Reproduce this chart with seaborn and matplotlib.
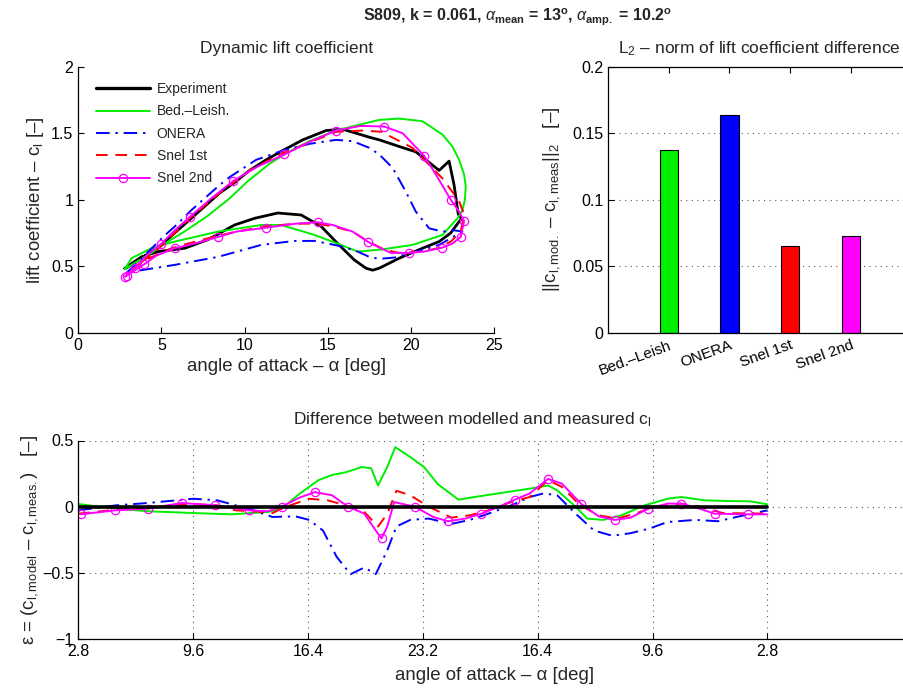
import matplotlib
matplotlib.use("Agg")
import matplotlib.pyplot as plt
import seaborn as sns
from matplotlib.lines import Line2D
from matplotlib.ticker import FuncFormatter, FixedLocator

# ---------------- data: dynamic lift loops (alpha [deg], cl) ----------------
exp_alpha = [2.8, 3.8, 4.9, 5.8, 6.7, 7.6, 8.5, 9.4, 10.3, 11.3, 12.3, 13.5, 14.9, 15.9, 17.5, 18.1, 19.3, 20.3, 20.7, 21.7,
             22.3, 22.6, 22.85, 23.05, 22.9, 22.4, 21.7, 20.7, 19.3, 18.1, 17.7, 17.3, 16.6, 15.6, 14.6, 13.4, 12.0, 10.6, 9.4, 7.8,
             6.4, 4.8, 3.8, 2.8]
exp_cl = [0.48, 0.56, 0.65, 0.75, 0.85, 0.95, 1.05, 1.13, 1.22, 1.30, 1.37, 1.45, 1.52, 1.53, 1.47, 1.45, 1.40, 1.36, 1.32, 1.22,
          1.29, 1.11, 0.89, 0.86, 0.835, 0.75, 0.685, 0.635, 0.56, 0.485, 0.47, 0.485, 0.547, 0.67, 0.80, 0.885, 0.90, 0.86, 0.81, 0.70,
          0.635, 0.61, 0.57, 0.485]

bl_alpha = [2.8, 3.6, 4.4, 5.2, 6.5, 7.8, 9.1, 10.2, 11.5, 12.5, 13.9, 15.5, 17.1, 18.1, 19.3, 20.7, 21.9, 22.5, 22.9, 23.2,
            23.3, 23.25, 23.1, 22.8, 21.9, 20.1, 18.2, 16.8, 15.8, 14.2, 12.2, 11.0, 8.4, 5.8, 4.4, 3.2, 2.8]
bl_cl = [0.48, 0.54, 0.60, 0.67, 0.77, 0.88, 1.01, 1.14, 1.27, 1.35, 1.44, 1.52, 1.57, 1.60, 1.61, 1.59, 1.49, 1.40, 1.30, 1.19,
         1.10, 1.00, 0.92, 0.86, 0.735, 0.66, 0.625, 0.61, 0.66, 0.735, 0.81, 0.81, 0.76, 0.685, 0.635, 0.56, 0.48]

on_alpha = [2.9, 3.5, 4.3, 5.1, 5.9, 6.7, 7.5, 8.5, 9.1, 10.7, 12.3, 13.9, 15.5, 16.5, 17.5, 18.1, 18.9, 19.7, 20.3, 21.1,
            21.9, 22.6, 23.1, 22.4, 21.7, 20.3, 19.0, 18.1, 17.5, 16.8, 15.8, 14.2, 13.0, 11.0, 8.4, 5.8, 3.8, 2.9]
on_cl = [0.45, 0.52, 0.62, 0.72, 0.81, 0.91, 1.00, 1.11, 1.17, 1.30, 1.37, 1.42, 1.45, 1.44, 1.39, 1.34, 1.24, 1.06, 0.91, 0.785,
         0.76, 0.77, 0.76, 0.71, 0.66, 0.61, 0.565, 0.555, 0.57, 0.61, 0.65, 0.69, 0.69, 0.66, 0.57, 0.51, 0.47, 0.45]

s1_alpha = [2.9, 3.5, 4.9, 6.7, 8.5, 10.3, 12.3, 14.3, 15.5, 17.1, 18.3, 18.7, 20.1, 21.9, 22.9, 23.2, 23.0, 22.4, 21.6, 20.7,
            19.3, 18.5, 17.5, 16.5, 15.3, 14.3, 13.1, 11.3, 9.5, 8.1, 6.3, 5.5, 4.1, 3.1, 2.9]
s1_cl = [0.43, 0.50, 0.64, 0.86, 1.05, 1.22, 1.35, 1.45, 1.51, 1.52, 1.51, 1.48, 1.39, 1.16, 0.99, 0.89, 0.76, 0.685, 0.635, 0.61,
         0.60, 0.62, 0.68, 0.76, 0.80, 0.82, 0.82, 0.80, 0.76, 0.72, 0.66, 0.63, 0.55, 0.46, 0.43]

s2_alpha = [2.8, 3.4, 4.1, 5.0, 5.8, 6.7, 8.0, 9.3, 10.8, 12.4, 14.0, 15.5, 17.0, 18.4, 19.5, 20.8, 21.5, 22.4, 22.9, 23.2,
            23.0, 22.5, 21.9, 20.8, 19.9, 18.8, 18.1, 17.4, 16.5, 15.3, 14.4, 13.1, 11.3, 9.5, 8.4, 7.0, 5.8, 4.7, 3.97, 3.3, 2.9]
s2_cl = [0.42, 0.49, 0.58, 0.67, 0.77, 0.87, 1.01, 1.14, 1.25, 1.34, 1.44, 1.52, 1.555, 1.55, 1.50, 1.33, 1.19, 1.00, 0.91, 0.84,
         0.72, 0.67, 0.64, 0.61, 0.60, 0.60, 0.64, 0.685, 0.76, 0.81, 0.83, 0.82, 0.79, 0.76, 0.72, 0.67, 0.635, 0.58, 0.515, 0.46, 0.43]
s2_marks = [0, 1, 3, 5, 7, 9, 11, 13, 15, 17, 19, 20, 22, 24, 27, 30, 32, 34, 36, 38, 40]

# ---------------- data: L2 norm bars ----------------
l2_models = ["Bed.\u2013Leish", "ONERA", "Snel 1st", "Snel 2nd"]
l2_values = [0.137, 0.164, 0.065, 0.073]

# ---------------- data: difference over the cycle ----------------
cycle_ticks = [0, 1, 2, 3, 4, 5, 6]
cycle_labels = ["2.8", "9.6", "16.4", "23.2", "16.4", "9.6", "2.8"]

exp_e_x = [0.0, 6.0]
exp_e_y = [0.0, 0.0]

bl_e_x = [0.0, 0.33, 0.61, 1.0, 1.33, 1.65, 1.77, 1.93, 2.09, 2.21, 2.33, 2.47, 2.55, 2.61, 2.69, 2.76, 2.89, 3.01, 3.13, 3.31,
          3.45, 3.73, 3.93, 4.09, 4.17, 4.33, 4.43, 4.57, 4.73, 4.93, 5.13, 5.25, 5.45, 5.65, 5.85, 6.0]
bl_e_y = [0.02, -0.015, -0.035, -0.048, -0.058, -0.04, -0.015, 0.10, 0.20, 0.24, 0.26, 0.30, 0.29, 0.16, 0.30, 0.45, 0.375, 0.30, 0.17, 0.053,
          0.073, 0.11, 0.136, 0.16, 0.123, 0.0, -0.09, -0.10, -0.065, 0.01, 0.06, 0.073, 0.048, 0.043, 0.04, 0.018]

on_e_x = [0.0, 0.33, 0.61, 1.0, 1.21, 1.37, 1.53, 1.69, 1.89, 2.01, 2.13, 2.25, 2.37, 2.49, 2.59, 2.69, 2.77, 2.89, 3.05, 3.25,
          3.41, 3.57, 3.77, 3.93, 4.05, 4.17, 4.33, 4.49, 4.65, 4.81, 4.97, 5.13, 5.37, 5.57, 5.73, 6.0]
on_e_y = [-0.028, 0.01, 0.028, 0.06, 0.048, 0.01, -0.028, -0.078, -0.073, -0.10, -0.18, -0.38, -0.51, -0.46, -0.51, -0.33, -0.15, -0.10, -0.09, -0.13,
          -0.10, -0.053, 0.01, 0.073, 0.10, 0.086, -0.053, -0.18, -0.22, -0.20, -0.166, -0.116, -0.10, -0.11, -0.078, -0.028]

s1_e_x = [0.0, 0.33, 0.61, 1.0, 1.21, 1.37, 1.53, 1.69, 1.81, 2.01, 2.17, 2.33, 2.49, 2.61, 2.69, 2.77, 2.89, 3.05, 3.25, 3.41,
          3.57, 3.77, 3.93, 4.09, 4.21, 4.37, 4.53, 4.69, 4.85, 5.01, 5.25, 5.41, 5.61, 6.0]
s1_e_y = [-0.053, -0.023, -0.008, 0.02, 0.01, -0.028, -0.035, -0.048, 0.0, 0.06, 0.048, 0.01, -0.04, -0.15, -0.053, 0.12, 0.086, 0.0, -0.083, -0.065,
          -0.028, 0.035, 0.073, 0.20, 0.15, 0.01, -0.065, -0.09, -0.053, 0.0, 0.023, 0.0, -0.048, -0.053]

s2_e_x = [0.02, 0.32, 0.61, 0.90, 1.19, 1.49, 1.65, 1.77, 1.93, 2.06, 2.21, 2.29, 2.35, 2.49, 2.59, 2.64, 2.69, 2.75, 2.81, 2.93,
          3.09, 3.22, 3.37, 3.51, 3.69, 3.80, 3.93, 4.09, 4.21, 4.38, 4.53, 4.67, 4.81, 4.96, 5.13, 5.25, 5.41, 5.54, 5.83, 6.0]
s2_e_y = [-0.058, -0.028, -0.015, 0.028, 0.01, -0.028, -0.035, 0.0, 0.07, 0.11, 0.086, 0.035, 0.0, -0.053, -0.18, -0.24, -0.15, 0.035, 0.023, 0.0,
          -0.078, -0.11, -0.09, -0.053, 0.01, 0.053, 0.1, 0.21, 0.174, 0.02, -0.073, -0.10, -0.083, -0.015, 0.023, 0.023, -0.015, -0.053, -0.058, -0.058]
s2_e_marks = [0, 1, 2, 3, 4, 5, 7, 9, 12, 15, 19, 21, 23, 25, 27, 29, 31, 33, 35, 37, 38]

# ---------------- style ----------------
sns.set_style("ticks")
plt.rcParams["font.family"] = ["Liberation Sans", "DejaVu Sans"]
plt.rcParams["mathtext.fontset"] = "custom"
plt.rcParams["mathtext.rm"] = "Liberation Sans"
plt.rcParams["mathtext.it"] = "Liberation Sans:italic"
plt.rcParams["mathtext.bf"] = "Liberation Sans:bold"
plt.rcParams["axes.linewidth"] = 0.9
plt.rcParams["axes.edgecolor"] = "black"

C_EXP, C_BL, C_ON, C_S1, C_S2 = "black", "#00ee00", "#0000ff", "#ff0000", "#ff00ff"
DASHDOT = (0, (7, 3, 1.2, 3))
DASHED = (0, (6, 4))
TICK_FS = 11.5
LAB_FS = 13.4
TIT_FS = 12.5

W, H = 904, 689
fig = plt.figure(figsize=(W / 100, H / 100), dpi=100)


def px_axes(l, t, r, b):
    return fig.add_axes([l / W, 1 - b / H, (r - l) / W, (b - t) / H])


ax1 = px_axes(78.3, 66.7, 494, 332.7)
ax2 = px_axes(608, 66.7, 911.5, 332.7)
ax3 = px_axes(78.3, 440.5, 911, 639)

# ---------------- top-left: hysteresis loops ----------------
common = dict(sort=False, estimator=None, ax=ax1, legend=False)
sns.lineplot(x=exp_alpha, y=exp_cl, color=C_EXP, lw=2.0, **common)
sns.lineplot(x=bl_alpha, y=bl_cl, color=C_BL, lw=1.4, **common)
sns.lineplot(x=on_alpha, y=on_cl, color=C_ON, lw=1.4, linestyle=DASHDOT, **common)
sns.lineplot(x=s1_alpha, y=s1_cl, color=C_S1, lw=1.4, linestyle=DASHED, **common)
sns.lineplot(x=s2_alpha, y=s2_cl, color=C_S2, lw=1.4, marker="o", markevery=s2_marks,
             markersize=6, markerfacecolor="none", markeredgecolor=C_S2, markeredgewidth=0.9, **common)
ax1.set_xlim(0, 25)
ax1.set_ylim(0, 2)
ax1.xaxis.set_major_locator(FixedLocator([0, 5, 10, 15, 20, 25]))
ax1.yaxis.set_major_locator(FixedLocator([0, 0.5, 1, 1.5, 2]))
ax1.xaxis.set_major_formatter(FuncFormatter(lambda v, p: f"{v:g}"))
ax1.yaxis.set_major_formatter(FuncFormatter(lambda v, p: f"{v:g}"))
ax1.set_xlabel("angle of attack \u2013 \u03b1 [deg]", fontsize=LAB_FS, labelpad=4)
ax1.set_ylabel("lift coefficient \u2013 c$_\\mathregular{l}$ [\u2013]", fontsize=LAB_FS, labelpad=4)
ax1.set_title("Dynamic lift coefficient", fontsize=TIT_FS, pad=10)
sns.despine(ax=ax1)

handles = [
    Line2D([], [], color=C_EXP, lw=2.4),
    Line2D([], [], color=C_BL, lw=1.4),
    Line2D([], [], color=C_ON, lw=1.4, linestyle=DASHDOT),
    Line2D([], [], color=C_S1, lw=1.4, linestyle=DASHED),
    Line2D([], [], color=C_S2, lw=1.4, marker="o", markersize=6, markerfacecolor="none", markeredgewidth=0.9),
]
labels = ["Experiment", "Bed.\u2013Leish.", "ONERA", "Snel 1st", "Snel 2nd"]
ax1.legend(handles, labels, loc="upper left", bbox_to_anchor=(0.03, 0.963), frameon=False, fontsize=10,
           handlelength=3.9, handletextpad=0.45, labelspacing=0.6, borderaxespad=0.0, numpoints=1)

# ---------------- top-right: L2 norm bars ----------------
sns.barplot(x=l2_models, y=l2_values, hue=l2_models, palette=[C_BL, C_ON, C_S1, C_S2], saturation=1,
            width=0.3, edgecolor="black", linewidth=0.8, legend=False, ax=ax2)
ax2.set_xlim(-1, 4)
ax2.set_ylim(0, 0.2)
ax2.yaxis.set_major_locator(FixedLocator([0, 0.05, 0.1, 0.15, 0.2]))
ax2.yaxis.set_major_formatter(FuncFormatter(lambda v, p: f"{v:g}"))
ax2.set_xticks(range(len(l2_models)))
ax2.set_xticklabels(l2_models, rotation=20, ha="right", rotation_mode="anchor")
ax2.grid(axis="y", linestyle=(0, (1, 4)), color="0.35", lw=0.8)
ax2.set_axisbelow(True)
ax2.set_ylabel("||c$_\\mathregular{l,mod.}$ \u2013 c$_\\mathregular{l,meas}$||$_\\mathregular{2}$   [\u2013]",
               fontsize=LAB_FS, labelpad=7)
ax2.set_xlabel("")
ax2.set_title("L$_\\mathregular{2}$ \u2013 norm of lift coefficient difference", fontsize=TIT_FS, pad=10)

# ---------------- bottom: difference ----------------
c3 = dict(sort=False, estimator=None, ax=ax3, legend=False)
sns.lineplot(x=bl_e_x, y=bl_e_y, color=C_BL, lw=1.4, **c3)
sns.lineplot(x=on_e_x, y=on_e_y, color=C_ON, lw=1.4, linestyle=DASHDOT, **c3)
sns.lineplot(x=s1_e_x, y=s1_e_y, color=C_S1, lw=1.4, linestyle=DASHED, **c3)
sns.lineplot(x=s2_e_x, y=s2_e_y, color=C_S2, lw=1.4, marker="o", markevery=s2_e_marks,
             markersize=6, markerfacecolor="none", markeredgecolor=C_S2, markeredgewidth=0.9, **c3)
sns.lineplot(x=exp_e_x, y=exp_e_y, color=C_EXP, lw=2.6, **c3)
ax3.set_xlim(0, 7.25)
ax3.set_ylim(-1, 0.5)
ax3.set_xticks(cycle_ticks)
ax3.set_xticklabels(cycle_labels)
ax3.yaxis.set_major_locator(FixedLocator([-1, -0.5, 0, 0.5]))
ax3.yaxis.set_major_formatter(FuncFormatter(lambda v, p: f"{v:g}".replace("-", "\u2212")))
ax3.grid(True, linestyle=(0, (1, 4)), color="0.35", lw=0.8)
ax3.set_axisbelow(True)
ax3.set_xlabel("angle of attack \u2013 \u03b1 [deg]", fontsize=LAB_FS, labelpad=6)
ax3.set_ylabel("\u03b5 = (c$_\\mathregular{l,model}$ \u2013 c$_\\mathregular{l,meas.}$)   [\u2013]",
               fontsize=LAB_FS, labelpad=1)
ax3.set_title("Difference between modelled and measured c$_\\mathregular{l}$", fontsize=TIT_FS, pad=12,
              x=(293 - 78.3) / (911 - 78.3), ha="left")
sns.despine(ax=ax3)

for ax in (ax1, ax2, ax3):
    ax.tick_params(direction="in", length=4, width=0.8, labelsize=TICK_FS, colors="black")
ax2.tick_params(axis="x", top=True, labelsize=TICK_FS - 0.5, pad=4)

fig.text(0.572, 1 - 17 / H,
         "S809, k = 0.061, $\\alpha_{\\mathbf{mean}}$ = 13$^{\\mathbf{o}}$, $\\alpha_{\\mathbf{amp.}}$ = 10.2$^{\\mathbf{o}}$",
         fontsize=11.5, fontweight="bold", ha="center", va="center")

fig.savefig("out.png", dpi=100)
